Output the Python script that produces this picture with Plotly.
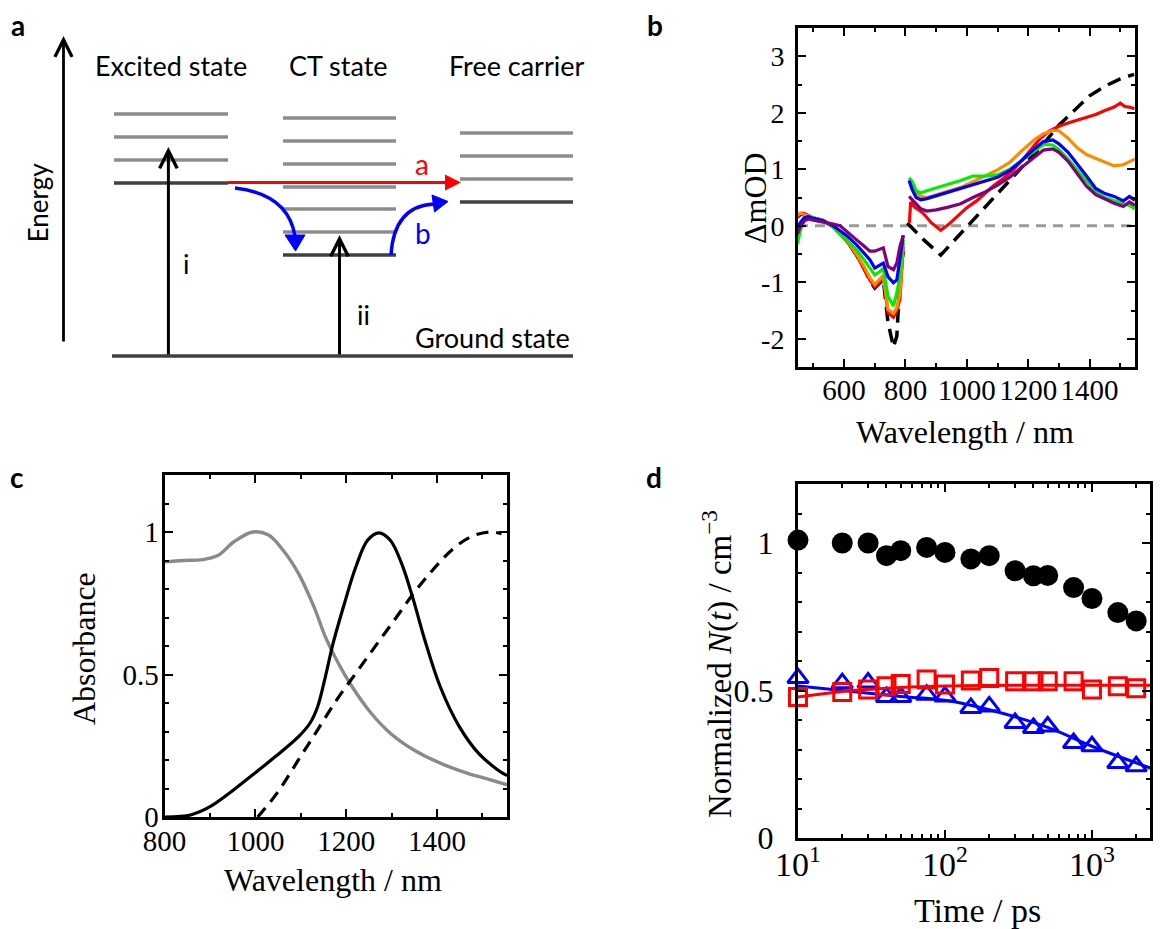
import plotly.graph_objects as go

W, H = 1164, 929
SERIF = "Liberation Serif"
SANS = "Lato"

# ---------------- (b) transient absorption spectra ----------------
b_vis_wl = [448, 457, 470, 483, 500, 532, 565, 587, 610, 641, 665, 684, 700, 715, 728, 743, 761, 772, 782, 793]
b_vis_black  = [0.15, 0.20, 0.20, 0.18, 0.14, 0.09, -0.02, -0.13, -0.27, -0.52, -0.75, -0.97, -1.10, -1.02, -0.95, -1.70, -2.15, -1.95, -0.95, -0.45]
b_vis_red    = [0.15, 0.22, 0.22, 0.18, 0.14, 0.09, -0.03, -0.14, -0.28, -0.52, -0.75, -0.96, -1.08, -1.00, -0.90, -1.54, -1.62, -1.50, -1.30, -0.37]
b_vis_orange = [0.18, 0.22, 0.20, 0.18, 0.14, 0.09, -0.02, -0.12, -0.26, -0.50, -0.72, -0.92, -1.04, -0.96, -0.88, -1.48, -1.55, -1.45, -1.20, -0.30]
b_vis_green  = [-0.32, -0.10, 0.12, 0.17, 0.14, 0.09, -0.02, -0.15, -0.26, -0.43, -0.60, -0.75, -0.87, -0.82, -0.75, -1.25, -1.42, -1.19, -0.90, -0.25]
b_vis_blue   = [-0.05, 0.05, 0.14, 0.16, 0.13, 0.09, 0.00, -0.08, -0.18, -0.34, -0.48, -0.60, -0.75, -0.70, -0.66, -0.90, -1.01, -0.96, -0.60, -0.17]
b_vis_purple = [-0.15, -0.02, 0.08, 0.12, 0.10, 0.07, 0.03, 0.00, -0.10, -0.25, -0.36, -0.45, -0.45, -0.42, -0.39, -0.72, -0.78, -0.66, -0.37, -0.17]

b_black_nir_wl = [806, 860, 915, 1000, 1050, 1100, 1150, 1200, 1250, 1300, 1350, 1400, 1450, 1500, 1545]
b_black_nir    = [0.05, -0.25, -0.52, -0.02, 0.28, 0.56, 0.86, 1.15, 1.45, 1.78, 2.05, 2.30, 2.47, 2.60, 2.68]

b_red_nir_wl = [813, 817, 830, 858, 885, 915, 940, 967, 1000, 1032, 1060, 1090, 1120, 1150, 1180, 1210, 1240,
                1270, 1300, 1330, 1360, 1390, 1420, 1450, 1480, 1500, 1515, 1530, 1546]
b_red_nir    = [0.05, 0.42, 0.33, 0.22, 0.05, -0.08, 0.02, 0.16, 0.32, 0.44, 0.58, 0.72, 0.84, 0.98, 1.16, 1.36, 1.55,
                1.68, 1.76, 1.82, 1.87, 1.92, 1.97, 2.04, 2.10, 2.17, 2.11, 2.10, 2.07]

b_nir_wl = [812, 822, 835, 850, 870, 900, 940, 980, 1020, 1060, 1100, 1140, 1180, 1220, 1250, 1280, 1300,
            1330, 1360, 1390, 1420, 1450, 1480, 1510, 1530, 1548]
b_orange_nir = [0.80, 0.68, 0.58, 0.52, 0.50, 0.55, 0.61, 0.68, 0.78, 0.88, 0.99, 1.12, 1.33, 1.52, 1.63, 1.69, 1.68,
                1.55, 1.38, 1.26, 1.19, 1.12, 1.06, 1.08, 1.14, 1.18]
b_green_nir  = [0.85, 0.78, 0.62, 0.58, 0.62, 0.67, 0.73, 0.80, 0.88, 0.88, 0.90, 1.00, 1.16, 1.33, 1.44, 1.43, 1.35,
                1.18, 0.98, 0.78, 0.60, 0.50, 0.44, 0.39, 0.36, 0.30]
b_blue_nir   = [0.80, 0.64, 0.50, 0.46, 0.48, 0.53, 0.60, 0.67, 0.74, 0.80, 0.86, 0.98, 1.16, 1.36, 1.49, 1.52, 1.45,
                1.30, 1.10, 0.88, 0.66, 0.57, 0.52, 0.44, 0.52, 0.45]
b_purple_nir = [0.52, 0.46, 0.38, 0.30, 0.26, 0.28, 0.33, 0.39, 0.50, 0.60, 0.72, 0.86, 1.04, 1.22, 1.34, 1.36, 1.30,
                1.14, 0.92, 0.70, 0.55, 0.47, 0.40, 0.34, 0.42, 0.36]
b_zero_wl = [450, 1548]
b_zero = [0, 0]

# ---------------- (c) absorbance ----------------
c_gray_wl = [800, 842, 884, 918, 952, 994, 1028, 1061, 1095, 1129, 1154, 1179, 1213, 1255, 1297, 1348, 1407, 1466, 1516, 1554]
c_gray    = [0.895, 0.90, 0.903, 0.918, 0.965, 1.0, 0.99, 0.936, 0.854, 0.737, 0.632, 0.55, 0.457, 0.364, 0.294, 0.236,
             0.189, 0.154, 0.131, 0.113]
c_black_wl = [800, 859, 901, 943, 994, 1044, 1095, 1120, 1137, 1154, 1171, 1196, 1221, 1247, 1272, 1297, 1322, 1348,
              1373, 1407, 1449, 1491, 1533, 1554]
c_black    = [0.0, 0.008, 0.037, 0.084, 0.148, 0.212, 0.282, 0.329, 0.387, 0.492, 0.609, 0.749, 0.877, 0.971, 0.997,
              0.971, 0.889, 0.761, 0.621, 0.457, 0.317, 0.224, 0.166, 0.145]
c_dash_wl = [1005, 1019, 1053, 1095, 1137, 1179, 1221, 1263, 1306, 1348, 1390, 1432, 1474, 1516, 1542]
c_dash    = [0.0, 0.026, 0.096, 0.201, 0.306, 0.411, 0.504, 0.597, 0.691, 0.784, 0.866, 0.936, 0.983, 1.0, 0.994]

# ---------------- (d) normalized N(t) ----------------
d_time = [10, 20, 30, 40, 50, 75, 100, 150, 200, 300, 400, 500, 750, 1000, 1500, 2000, 2500]
d_black = [1.01, 1.00, 1.00, 0.957, 0.974, 0.985, 0.968, 0.946, 0.957, 0.906, 0.889, 0.89, 0.849, 0.812, 0.764, 0.736, 0.736]
d_red   = [0.478, 0.495, 0.503, 0.514, 0.522, 0.537, 0.52, 0.534, 0.542, 0.531, 0.531, 0.531, 0.531, 0.503, 0.514, 0.508, 0.503]
d_blue  = [0.542, 0.525, 0.527, 0.478, 0.478, 0.486, 0.48, 0.441, 0.446, 0.39, 0.373, 0.378, 0.322, 0.311, 0.254, 0.243, 0.249]
d_fit_time = [10, 20, 50, 100, 200, 500, 1000, 2500]
d_blue_fit = [0.515, 0.50, 0.48, 0.467, 0.435, 0.375, 0.311, 0.237]
d_red_fit  = [0.478, 0.497, 0.510, 0.515, 0.517, 0.518, 0.518, 0.518]

# ---------------- (a) energy diagram (diagram units) ----------------
excited_x = [114, 228]
excited_levels = [114, 137, 160, 183]
ct_x = [283, 396]
ct_levels = [118, 141, 164, 187, 209, 232, 255]
free_x = [460, 573]
free_levels = [133, 156, 179, 202]
ground_x = [112, 573]
ground_level = 356

fig = go.Figure()

def line(x, y, xa, ya, color, width=3.2, dash=None, shape="linear"):
    fig.add_trace(go.Scatter(x=x, y=y, xaxis=xa, yaxis=ya, mode="lines",
                             line=dict(color=color, width=width, dash=dash, shape=shape),
                             hoverinfo="skip", showlegend=False))

# panel b
line(b_zero_wl, b_zero, "x", "y", "#9a9a9a", 3, "10px,7px")
line(b_vis_wl + [None] + b_black_nir_wl, b_vis_black + [None] + b_black_nir, "x", "y", "black", 3.5, "14px,8px")
line(b_vis_wl + [None] + b_red_nir_wl, b_vis_red + [None] + b_red_nir, "x", "y", "#ff0000")
line(b_vis_wl + [None] + b_nir_wl, b_vis_orange + [None] + b_orange_nir, "x", "y", "#ff8a00")
line(b_vis_wl + [None] + b_nir_wl, b_vis_green + [None] + b_green_nir, "x", "y", "#00ee00")
line(b_vis_wl + [None] + b_nir_wl, b_vis_blue + [None] + b_blue_nir, "x", "y", "#0000ff")
line(b_vis_wl + [None] + b_nir_wl, b_vis_purple + [None] + b_purple_nir, "x", "y", "#800080")

# panel c
line(c_gray_wl, c_gray, "x2", "y2", "#8a8a8a", 3.4, shape="spline")
line(c_black_wl, c_black, "x2", "y2", "black", 3.2, shape="spline")
line(c_dash_wl, c_dash, "x2", "y2", "black", 3.2, "12px,8px", shape="spline")

# panel d
fig.add_trace(go.Scatter(x=d_time, y=d_black, xaxis="x3", yaxis="y3", mode="markers", cliponaxis=False,
                         marker=dict(symbol="circle", size=21, color="black"), hoverinfo="skip", showlegend=False))
line(d_fit_time, d_blue_fit, "x3", "y3", "#0000ff", 3, shape="spline")
fig.add_trace(go.Scatter(x=d_time, y=d_blue, xaxis="x3", yaxis="y3", mode="markers", cliponaxis=False,
                         marker=dict(symbol="triangle-up-open", size=18, color="#0000ff", line=dict(width=3, color="#0000ff")),
                         hoverinfo="skip", showlegend=False))
line(d_fit_time, d_red_fit, "x3", "y3", "#ff0000", 3, shape="spline")
fig.add_trace(go.Scatter(x=d_time, y=d_red, xaxis="x3", yaxis="y3", mode="markers", cliponaxis=False,
                         marker=dict(symbol="square-open", size=17, color="#ff0000", line=dict(width=3, color="#ff0000")),
                         hoverinfo="skip", showlegend=False))

def dom_x(a, b): return [a / W, b / W]
def dom_y(top, bottom): return [1 - bottom / H, 1 - top / H]

frame = dict(showline=True, linecolor="black", linewidth=3, mirror="ticks", ticks="inside",
             ticklen=8, tickwidth=2, tickcolor="black", showgrid=False, zeroline=False,
             tickangle=0, tickmode="array", automargin=False)

def minor(**kw):
    d = dict(ticks="inside", ticklen=4, tickwidth=2, tickcolor="black", showgrid=False)
    d.update(kw)
    return d

fig.update_layout(
    width=W, height=H, autosize=False, margin=dict(l=0, r=0, t=0, b=0, pad=0, autoexpand=False),
    paper_bgcolor="white", plot_bgcolor="rgba(0,0,0,0)", showlegend=False, hovermode=False,
    xaxis=dict(frame, domain=dom_x(798, 1135), range=[450, 1548], anchor="y",
               tickvals=[600, 800, 1000, 1200, 1400], ticklabelstandoff=-5,
               tickfont=dict(family=SERIF, size=29, color="black"),
               minor=minor(tickmode="linear", tick0=0, dtick=100)),
    yaxis=dict(frame, domain=dom_y(28, 367), range=[-2.5, 3.5], anchor="x",
               tickvals=[-2, -1, 0, 1, 2, 3], ticktext=["-2", "-1", "0", "1", "2", "3"], ticklabelstandoff=5,
               tickfont=dict(family=SERIF, size=28, color="black"),
               minor=minor(tickmode="linear", tick0=0, dtick=0.5)),
    xaxis2=dict(frame, domain=dom_x(164.6, 507), range=[800, 1554], anchor="y2",
                tickvals=[800, 1000, 1200, 1400], ticklabelstandoff=-4,
                tickfont=dict(family=SERIF, size=29, color="black"),
                minor=minor(tickmode="linear", tick0=0, dtick=100)),
    yaxis2=dict(frame, domain=dom_y(475, 817), range=[0, 1.2], anchor="x2",
                tickvals=[0, 0.5, 1], ticktext=["0", "0.5", "1"], ticklabelstandoff=-3,
                tickfont=dict(family=SERIF, size=29, color="black"),
                minor=minor(tickmode="linear", tick0=0, dtick=0.1)),
    xaxis3=dict(frame, type="log", domain=dom_x(798, 1150), range=[1, 3.395], anchor="y3",
                tickvals=[10, 100, 1000], ticktext=["10<sup>1</sup>", "10<sup>2</sup>", "10<sup>3</sup>"],
                ticklabelstandoff=-6, tickfont=dict(family=SERIF, size=34, color="black"),
                minor=minor(tickmode="array", tickvals=[20, 30, 40, 50, 60, 70, 80, 90, 200, 300, 400, 500,
                                                        600, 700, 800, 900, 2000])),
    yaxis3=dict(frame, domain=dom_y(484, 838), range=[0, 1.2], anchor="x3",
                tickvals=[0, 0.5, 1], ticktext=["0", "0.5", "1"], ticklabelstandoff=15,
                tickfont=dict(family=SERIF, size=32, color="black"),
                minor=minor(tickmode="linear", tick0=0, dtick=0.1)),
    xaxis4=dict(domain=[0, 1], range=[0, W], visible=False, anchor="y4", fixedrange=True, automargin=False),
    yaxis4=dict(domain=[0, 1], range=[H, 0], visible=False, anchor="x4", fixedrange=True, automargin=False),
)

# ---- panel a shapes ----
shapes = []
def level(xs, y, color):
    shapes.append(dict(type="line", xref="x4", yref="y4", x0=xs[0], x1=xs[1], y0=y, y1=y,
                       line=dict(color=color, width=3.4)))
GRAY, DARK = "#8c8c8c", "#404040"
for grp_x, levels in [(excited_x, excited_levels), (ct_x, ct_levels), (free_x, free_levels)]:
    for yv in levels[:-1]:
        level(grp_x, yv, GRAY)
    level(grp_x, levels[-1], DARK)
level(ground_x, ground_level, DARK)

# blue curved arrows
shapes.append(dict(type="path", xref="x4", yref="y4", path="M 235,188 Q 288,194 295,236",
                   line=dict(color="#0000ff", width=3.4)))
shapes.append(dict(type="path", xref="x4", yref="y4", path="M 285,235 L 305,235 L 295.5,251 Z",
                   fillcolor="#0000ff", line=dict(color="#0000ff", width=1)))
shapes.append(dict(type="path", xref="x4", yref="y4", path="M 391,255 Q 394,206 434,204",
                   line=dict(color="#0000ff", width=3.4)))
shapes.append(dict(type="path", xref="x4", yref="y4", path="M 448,201.5 L 432,195 L 434.5,212 Z",
                   fillcolor="#0000ff", line=dict(color="#0000ff", width=1)))
fig.update_layout(shapes=shapes)

ann = []
def arrow(x, y0, y1, width=3, size=1.15):
    ann.append(dict(x=x, y=y1, ax=x, ay=y0, xref="x4", yref="y4", axref="x4", ayref="y4", text="",
                    showarrow=True, arrowhead=5, arrowsize=size, arrowwidth=width, arrowcolor="black"))
arrow(63.5, 343, 36, 2.8, 1.2)
arrow(168.4, ground_level, 147)
arrow(339.5, ground_level, 235)
ann.append(dict(x=461, y=182.5, ax=226, ay=182.5, xref="x4", yref="y4", axref="x4", ayref="y4", text="",
                showarrow=True, arrowhead=2, arrowsize=1, arrowwidth=3.2, arrowcolor="#ff0000"))

def txt(s, x, y, size, color="black", family=SANS, angle=0, **kw):
    ann.append(dict(text=s, x=x, y=y, xref="x4", yref="y4", showarrow=False, textangle=angle,
                    font=dict(family=family, size=size, color=color), xanchor="center", yanchor="middle", **kw))

txt("Excited state", 171, 65, 27)
txt("CT state", 338, 65, 27)
txt("Free carrier", 516.6, 65, 27)
txt("Ground state", 492.7, 337, 27)
txt("i", 186.4, 263, 27)
txt("ii", 363.6, 314, 27)
txt("a", 421.7, 164, 28, "#ff0000")
txt("b", 422.9, 233, 28, "#0000ff")
txt("Energy", 38.3, 202, 26, angle=-90)

# panel letters
txt("<b>a</b>", 18, 25, 28)
txt("<b>b</b>", 655, 25, 28)
txt("<b>c</b>", 17, 477, 28)
txt("<b>d</b>", 654, 477, 28)

# axis titles
txt("ΔmOD", 755, 198, 32, family=SERIF, angle=-90)
txt("Wavelength / nm", 965, 432, 32, family=SERIF)
txt("Absorbance", 84, 649, 32, family=SERIF, angle=-90)
txt("Wavelength / nm", 333, 880, 32, family=SERIF)
txt("Normalized <i>N</i>(<i>t</i>) / cm<sup>−3</sup>", 717, 664, 33, family=SERIF, angle=-90)
txt("Time / ps", 977, 910, 34, family=SERIF)

fig.update_layout(annotations=ann)
fig.write_html("out.html", config={"responsive": False, "displayModeBar": False},
               post_script="document.body.style.margin='0px';document.body.style.overflow='hidden';")
